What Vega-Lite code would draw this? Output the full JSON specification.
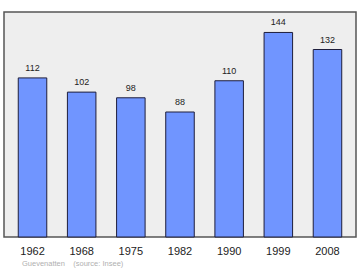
{
  "$schema": "https://vega.github.io/schema/vega-lite/v6.json",
  "width": 352,
  "height": 225,
  "autosize": "none",
  "padding": {"left": 4, "top": 12, "right": 4, "bottom": 33},
  "background": "white",
  "config": {
    "view": {"fill": "#eeeeee", "stroke": "#555555", "strokeWidth": 1.5},
    "font": "Liberation Sans"
  },
  "title": {
    "text": "Guevenatten\u00a0\u00a0\u00a0\u00a0(source: Insee)",
    "orient": "bottom",
    "anchor": "start",
    "dx": 18,
    "offset": 4,
    "fontSize": 7.5,
    "fontWeight": "normal",
    "color": "#b0b0b0",
    "font": "Liberation Sans"
  },
  "data": {
    "values": [
      {"year": "1962", "pop": 112},
      {"year": "1968", "pop": 102},
      {"year": "1975", "pop": 98},
      {"year": "1982", "pop": 88},
      {"year": "1990", "pop": 110},
      {"year": "1999", "pop": 144},
      {"year": "2008", "pop": 132}
    ]
  },
  "encoding": {
    "x": {
      "field": "year",
      "type": "ordinal",
      "sort": null,
      "scale": {"paddingInner": 0.42, "paddingOuter": 0.29},
      "axis": {
        "title": null,
        "domain": false,
        "ticks": false,
        "labelAngle": 0,
        "labelFontSize": 11,
        "labelColor": "#222222",
        "labelPadding": 8,
        "labelFont": "Liberation Sans"
      }
    },
    "y": {
      "field": "pop",
      "type": "quantitative",
      "scale": {"domain": [0, 158.4], "nice": false},
      "axis": null
    }
  },
  "layer": [
    {
      "mark": {"type": "bar", "fill": "#7095ff", "stroke": "#1e1e3c", "strokeWidth": 1}
    },
    {
      "mark": {"type": "text", "dy": -7, "baseline": "alphabetic", "fontSize": 9, "color": "#222222", "font": "Liberation Sans"},
      "encoding": {"text": {"field": "pop", "type": "quantitative"}}
    }
  ]
}
